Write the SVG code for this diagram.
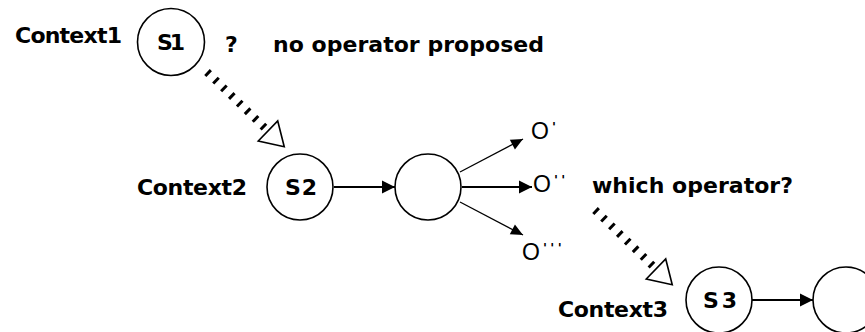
<svg xmlns="http://www.w3.org/2000/svg" width="865" height="332" viewBox="0 0 865 332">
<defs>
<style>
.bg{fill:#ffffff}
.node{fill:#ffffff;stroke:#000000;stroke-width:1.6}
.lbl{font-family:"DejaVu Sans","Liberation Sans",sans-serif;font-weight:bold;font-size:22px;fill:#000000}
.olbl{font-family:"Liberation Sans","DejaVu Sans",sans-serif;font-size:23px;fill:#000000}
.prime{font-family:"DejaVu Sans",sans-serif;font-weight:bold;font-size:13px;letter-spacing:3.5px}
.dash{stroke:#000000;stroke-width:8;stroke-dasharray:3 8;fill:none}
.solid{stroke:#000000;stroke-width:2;fill:none}
.thin{stroke:#000000;stroke-width:1.3;fill:none}
</style>
<marker id="hollow" markerUnits="userSpaceOnUse" markerWidth="30" markerHeight="34" viewBox="-3 -17 30 34" refX="0" refY="0" orient="auto">
<path d="M0,-14 L22.6,0 L0,14 Z" fill="#ffffff" stroke="#000000" stroke-width="1.6"/>
</marker>
<marker id="head" markerUnits="userSpaceOnUse" markerWidth="16" markerHeight="16" viewBox="-14 -8 16 16" refX="0" refY="0" orient="auto">
<path d="M-13,-6.5 L0,0 L-13,6.5 Z" fill="#000000"/>
</marker>
<marker id="heads" markerUnits="userSpaceOnUse" markerWidth="14" markerHeight="14" viewBox="-13 -7 14 14" refX="0" refY="0" orient="auto">
<path d="M-12,-5.5 L0,0 L-12,5.5 Z" fill="#000000"/>
</marker>
</defs>
<rect class="bg" x="0" y="0" width="865" height="332"/>

<g id="connectors">
<line class="dash" x1="207" y1="72" x2="268" y2="131" marker-end="url(#hollow)"/>
<line class="dash" x1="595" y1="210" x2="656" y2="269" marker-end="url(#hollow)"/>
<line class="solid" x1="334" y1="187" x2="395" y2="187" marker-end="url(#head)"/>
<line class="thin" x1="460" y1="172" x2="523" y2="139" marker-end="url(#heads)"/>
<line class="solid" x1="462" y1="187" x2="532" y2="187" marker-end="url(#head)"/>
<line class="thin" x1="460" y1="202" x2="523" y2="235" marker-end="url(#heads)"/>
<line class="solid" x1="752" y1="300" x2="813" y2="300" marker-end="url(#head)"/>
</g>

<g id="context1">
<text class="lbl" x="15" y="43" textLength="107" lengthAdjust="spacing">Context1</text>
</g>
<g id="s1">
<circle class="node" cx="171" cy="42" r="33.5"/>
<text class="lbl" x="171" y="50" text-anchor="middle" textLength="28" lengthAdjust="spacing">S1</text>
</g>
<g id="question1">
<text class="lbl" x="225" y="52">?</text>
</g>
<g id="no-operator">
<text class="lbl" x="273" y="52" textLength="271" lengthAdjust="spacing">no operator proposed</text>
</g>

<g id="context2">
<text class="lbl" x="137" y="195" textLength="110" lengthAdjust="spacing">Context2</text>
</g>
<g id="s2">
<circle class="node" cx="300" cy="187" r="33"/>
<text class="lbl" x="301" y="195" text-anchor="middle" textLength="32" lengthAdjust="spacing">S2</text>
</g>
<g id="choice">
<circle class="node" cx="428" cy="187" r="33"/>
</g>
<g id="o1">
<text class="olbl" x="531" y="139">O<tspan class="prime" dx="3" dy="-8">'</tspan></text>
</g>
<g id="o2">
<text class="olbl" x="533" y="192">O<tspan class="prime" dx="3" dy="-8">''</tspan></text>
</g>
<g id="o3">
<text class="olbl" x="522" y="260">O<tspan class="prime" dx="3" dy="-8">'''</tspan></text>
</g>
<g id="which-operator">
<text class="lbl" x="592" y="193" textLength="201" lengthAdjust="spacing">which operator?</text>
</g>

<g id="context3">
<text class="lbl" x="558" y="317" textLength="110" lengthAdjust="spacing">Context3</text>
</g>
<g id="s3">
<circle class="node" cx="719" cy="300" r="33"/>
<text class="lbl" x="720" y="308" text-anchor="middle" textLength="34" lengthAdjust="spacing">S3</text>
</g>
<g id="next">
<circle class="node" cx="846" cy="300" r="33"/>
</g>
</svg>
